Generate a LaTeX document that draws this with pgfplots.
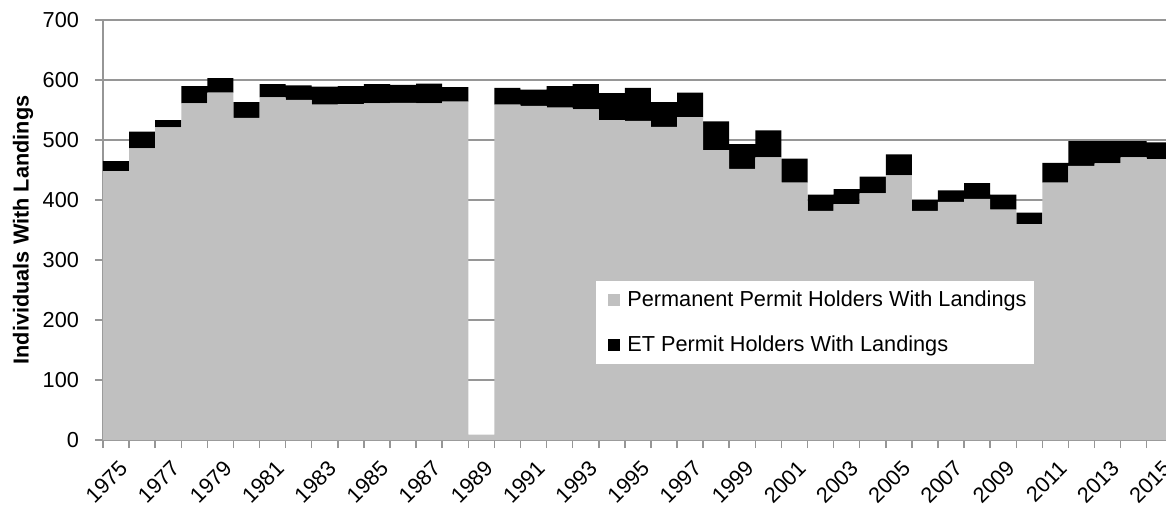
\documentclass[border=0pt]{standalone}
\usepackage{fontspec}
\setmainfont{Liberation Sans}
\usepackage{pgfplots}
\pgfplotsset{compat=1.18}
\usepackage{pgfplotstable}
\definecolor{permgray}{RGB}{192,192,192}
\definecolor{gridgray}{RGB}{150,150,150}
\pgfplotsset{sqlegend/.style={legend image code/.code={\path (0pt,0pt) (12pt,0pt); \fill[##1] (4.5pt,-3pt) rectangle (10.5pt,3pt);}}}

\pgfplotstableread{
x gray black
0 448 17
1 486 28
2 521 12
3 561 29
4 579 24
5 537 26
6 571 22
7 567 24
8 559 30
9 560 30
10 561 32
11 562 30
12 561 33
13 564 24
14 9 0
15 559 28
16 557 27
17 554 36
18 551 42
19 533 45
20 532 55
21 522 41
22 538 41
23 483 48
24 452 41
25 471 45
26 429 40
27 382 27
28 393 25
29 411 28
30 441 35
31 382 18
32 397 19
33 402 26
34 384 25
35 360 19
36 429 33
37 457 41
38 461 37
39 471 27
40 468 28
}\data

\begin{document}
\begin{tikzpicture}[font=\fontsize{10.85}{13}\selectfont]
\begin{axis}[
  scale only axis, width=534.9pt, height=210pt,
  ybar stacked, bar width=1,
  xmin=-0.5, xmax=40.5, ymin=0, ymax=700,
  axis lines*=left,
  axis line style={gridgray, line width=0.75pt},
  every tick/.style={gridgray, line width=0.75pt},
  tick align=outside, tick pos=left,
  major tick length=4pt,
  ytick={0,100,...,700},
  ymajorgrids, grid style={gridgray, line width=0.75pt},
  xtick={-0.5,0.5,...,40.5},
  xticklabels={},
  extra x ticks={0,2,...,40},
  extra x tick labels={1975,1977,1979,1981,1983,1985,1987,1989,1991,1993,1995,1997,1999,2001,2003,2005,2007,2009,2011,2013,2015},
  extra x tick style={major tick length=0pt, grid=none},
  xticklabel style={xshift=1pt, yshift=-9.5pt, rotate=45, anchor=north east, inner sep=0pt, font=\fontsize{10.85}{13}\selectfont},
  yticklabel style={xshift=-4.5pt, font=\fontsize{10.85}{13}\selectfont},
  /pgf/number format/assume math mode=true,
  ylabel={\bfseries Individuals With Landings},
  ylabel style={at={(axis description cs:0,0.5)}, anchor=center, yshift=40pt},
  legend cell align=left,
  legend style={at={(0.4608,0.3786)}, anchor=north west, draw=none, fill=white,
    inner xsep=1.5pt, inner ysep=2.5pt, row sep=9.5pt,
    font=\fontsize{10.85}{13}\selectfont},
]
\addplot[fill=permgray, draw=none, sqlegend] table[x=x, y=gray] {\data};
\addplot[fill=black, draw=none, sqlegend] table[x=x, y=black] {\data};
\legend{Permanent Permit Holders With Landings, ET Permit Holders With Landings}
\end{axis}
\pgfresetboundingbox
\path (current axis.south west) ++(-51.5pt,-34pt) rectangle ++(583pt,254pt);
\end{tikzpicture}
\end{document}
